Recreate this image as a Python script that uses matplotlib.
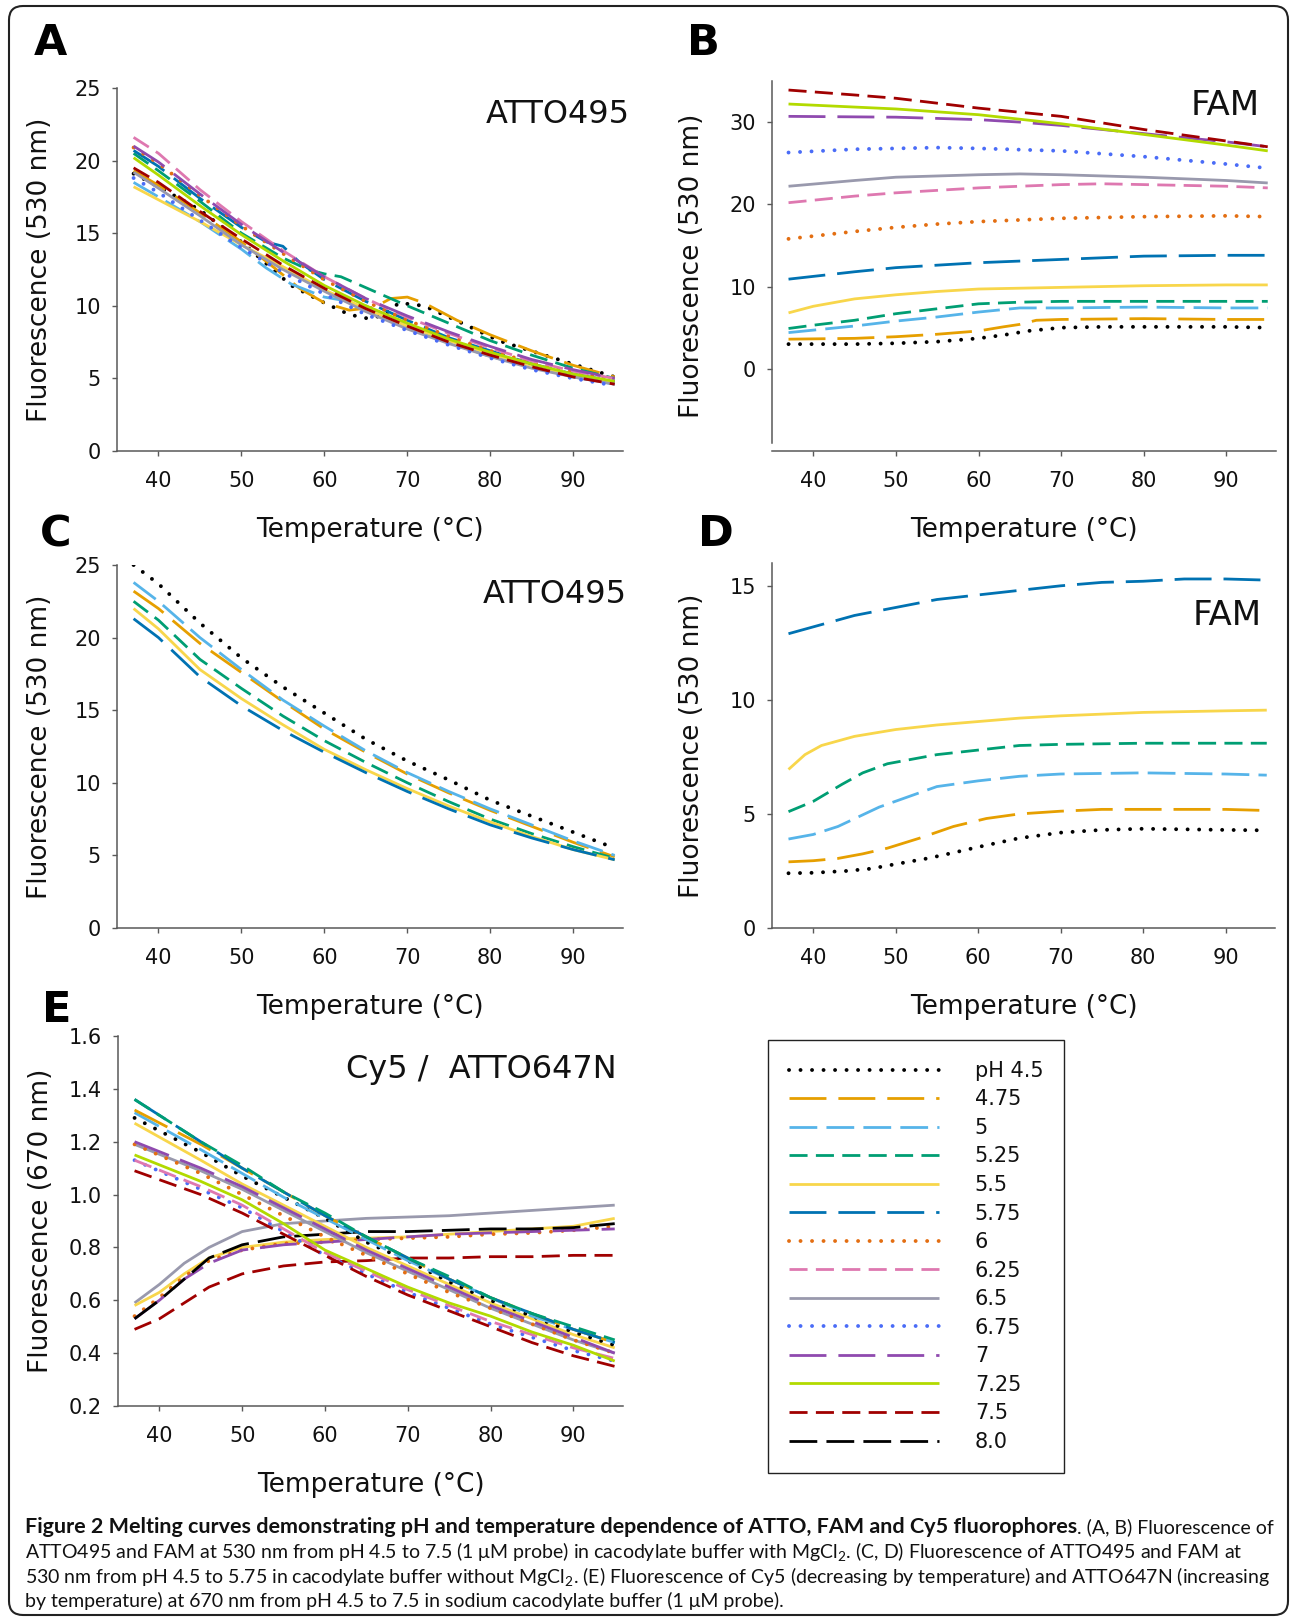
import matplotlib
matplotlib.use("Agg")
import matplotlib.pyplot as plt
import matplotlib.ticker as mticker
from matplotlib.lines import Line2D
from matplotlib.patches import FancyBboxPatch
from matplotlib.transforms import IdentityTransform

W, H = 1295, 1621

# ------------------------------------------------------------------ data
PH = ['4.5', '4.75', '5', '5.25', '5.5', '5.75', '6', '6.25', '6.5', '6.75',
      '7', '7.25', '7.5', '8.0']
LEGEND_LABELS = ['pH 4.5', '4.75', '5', '5.25', '5.5', '5.75', '6', '6.25',
                 '6.5', '6.75', '7', '7.25', '7.5', '8.0']
XTICKS = [40, 50, 60, 70, 80, 90]
T13 = [37, 40, 45, 50, 55, 60, 65, 70, 75, 80, 85, 90, 95]

# Panel A: ATTO495 with MgCl2
A_PH = ['4.5', '4.75', '5', '5.25', '5.5', '5.75', '6', '6.25', '6.5',
        '6.75', '7', '7.25', '7.5']
A_T = [
    [37, 40, 45, 50, 53, 56, 60, 63, 65, 67, 69, 72, 77, 81, 86, 91, 95],
    [37, 40, 45, 50, 54, 57, 60, 63, 66, 68, 70, 72, 76, 80, 85, 90, 95],
    [37, 40, 45, 50, 53, 56, 60, 63, 65, 70, 75, 80, 85, 90, 95],
    [37, 40, 45, 50, 55, 58, 60, 62, 66, 70, 75, 80, 85, 90, 95],
    T13,
    [37, 40, 45, 50, 53, 55, 57, 60, 65, 70, 75, 80, 85, 90, 95],
    T13, T13, T13, T13, T13, T13, T13,
]
A_V = [
    [19.1, 18.2, 16.6, 14.4, 12.9, 11.4, 10.2, 9.4, 9.15, 9.3, 10.2, 10.0, 8.7, 7.6, 6.7, 5.8, 5.1],
    [19.3, 18.3, 16.4, 14.4, 12.6, 11.2, 10.2, 9.7, 9.9, 10.5, 10.6, 10.2, 9.0, 8.0, 6.9, 5.9, 5.1],
    [18.5, 17.5, 15.8, 13.9, 12.6, 11.5, 10.6, 10.3, 10.0, 8.6, 7.5, 6.5, 5.8, 5.1, 4.6],
    [20.5, 19.3, 17.2, 15.0, 13.3, 12.5, 12.2, 12.0, 11.0, 10.0, 8.8, 7.6, 6.6, 5.7, 5.0],
    [18.2, 17.3, 15.8, 14.2, 12.7, 11.1, 9.8, 8.6, 7.6, 6.7, 5.9, 5.2, 4.7],
    [20.7, 19.6, 17.4, 15.4, 14.4, 14.1, 13.0, 11.8, 10.3, 9.0, 7.8, 6.9, 6.0, 5.3, 4.8],
    [20.9, 19.8, 17.6, 15.5, 13.6, 11.8, 10.3, 9.0, 7.9, 6.9, 6.1, 5.4, 4.9],
    [21.6, 20.5, 18.0, 15.8, 13.8, 12.0, 10.5, 9.2, 8.1, 7.1, 6.2, 5.5, 5.0],
    [19.2, 18.1, 16.2, 14.2, 12.5, 11.0, 9.6, 8.4, 7.4, 6.5, 5.7, 5.1, 4.6],
    [18.8, 17.8, 15.9, 14.0, 12.3, 10.8, 9.4, 8.3, 7.3, 6.4, 5.6, 5.0, 4.5],
    [21.0, 19.9, 17.7, 15.6, 13.7, 12.0, 10.5, 9.3, 8.2, 7.2, 6.3, 5.6, 5.0],
    [20.2, 19.0, 16.9, 14.9, 13.1, 11.4, 10.0, 8.8, 7.7, 6.8, 6.0, 5.3, 4.8],
    [19.5, 18.5, 16.5, 14.6, 12.8, 11.2, 9.8, 8.6, 7.5, 6.6, 5.8, 5.1, 4.6],
]

# Panel B: FAM with MgCl2
B_PH = A_PH
B_T = [
    [37, 45, 50, 55, 60, 63, 66, 70, 75, 80, 90, 95],
    [37, 45, 50, 55, 60, 63, 65, 67, 70, 80, 90, 95],
    [37, 40, 45, 50, 55, 60, 63, 65, 70, 80, 90, 95],
    [37, 40, 45, 50, 55, 60, 65, 70, 80, 90, 95],
    [37, 40, 45, 50, 55, 60, 70, 80, 90, 95],
    [37, 45, 50, 60, 70, 80, 90, 95],
    [37, 45, 50, 55, 60, 70, 80, 90, 95],
    [37, 45, 50, 60, 70, 75, 80, 90, 95],
    [37, 45, 50, 60, 65, 70, 80, 90, 95],
    [37, 45, 55, 60, 70, 80, 90, 95],
    [37, 50, 60, 65, 70, 80, 90, 95],
    [37, 50, 60, 70, 80, 90, 95],
    [37, 45, 50, 60, 70, 80, 90, 95],
]
B_V = [
    [3.0, 3.0, 3.1, 3.3, 3.7, 4.1, 4.6, 5.0, 5.1, 5.1, 5.1, 5.0],
    [3.6, 3.7, 3.9, 4.2, 4.6, 5.1, 5.4, 5.9, 6.0, 6.1, 6.0, 6.0],
    [4.4, 4.7, 5.2, 5.8, 6.3, 6.9, 7.2, 7.4, 7.4, 7.5, 7.4, 7.4],
    [4.9, 5.3, 5.9, 6.7, 7.3, 7.9, 8.1, 8.2, 8.2, 8.2, 8.2],
    [6.8, 7.6, 8.5, 9.0, 9.4, 9.7, 9.9, 10.1, 10.2, 10.2],
    [10.9, 11.8, 12.3, 12.9, 13.3, 13.7, 13.8, 13.8],
    [15.8, 16.7, 17.2, 17.6, 17.9, 18.3, 18.5, 18.6, 18.5],
    [20.2, 21.0, 21.4, 22.0, 22.4, 22.5, 22.4, 22.2, 22.0],
    [22.2, 22.9, 23.3, 23.6, 23.7, 23.6, 23.3, 22.9, 22.6],
    [26.3, 26.7, 26.9, 26.8, 26.5, 25.8, 24.9, 24.4],
    [30.7, 30.6, 30.3, 30.0, 29.6, 28.6, 27.6, 27.0],
    [32.2, 31.6, 30.9, 29.8, 28.5, 27.2, 26.5],
    [33.9, 33.3, 32.9, 31.7, 30.7, 29.1, 27.7, 27.0],
]

# Panel C: ATTO495 without MgCl2
C_PH = ['4.5', '4.75', '5', '5.25', '5.5', '5.75']
C_V = [
    [25.0, 23.7, 21.0, 18.6, 16.6, 14.8, 13.0, 11.5, 10.2, 8.8, 7.7, 6.6, 5.5],
    [23.2, 22.0, 19.6, 17.6, 15.6, 13.7, 12.1, 10.6, 9.3, 8.1, 7.0, 5.9, 4.9],
    [23.8, 22.5, 20.0, 17.8, 15.7, 13.9, 12.2, 10.7, 9.4, 8.2, 7.1, 6.0, 5.0],
    [22.5, 21.2, 18.5, 16.5, 14.6, 12.9, 11.4, 10.0, 8.7, 7.5, 6.5, 5.6, 4.8],
    [22.0, 20.6, 17.8, 15.8, 14.0, 12.3, 10.9, 9.6, 8.4, 7.3, 6.3, 5.4, 4.7],
    [21.3, 20.0, 17.3, 15.3, 13.6, 12.1, 10.7, 9.4, 8.2, 7.1, 6.2, 5.4, 4.7],
]

# Panel D: FAM without MgCl2
D_PH = C_PH
D_T = [
    [37, 40, 44, 47, 50, 54, 57, 60, 65, 70, 75, 80, 90, 95],
    [37, 40, 43, 46, 49, 53, 57, 61, 65, 70, 75, 80, 90, 95],
    [37, 40, 43, 48, 55, 60, 65, 70, 80, 90, 95],
    [37, 40, 43.5, 46, 49, 55, 60, 65, 70, 80, 90, 95],
    [37, 39, 41, 45, 50, 55, 60, 65, 70, 80, 90, 95],
    [37, 40, 45, 50, 55, 60, 65, 70, 75, 80, 85, 90, 95],
]
D_V = [
    [2.4, 2.42, 2.5, 2.6, 2.8, 3.06, 3.3, 3.55, 3.94, 4.18, 4.3, 4.35, 4.3, 4.28],
    [2.9, 2.95, 3.05, 3.25, 3.5, 3.95, 4.45, 4.8, 5.0, 5.12, 5.2, 5.2, 5.2, 5.15],
    [3.9, 4.1, 4.45, 5.3, 6.2, 6.45, 6.65, 6.75, 6.8, 6.75, 6.7],
    [5.1, 5.55, 6.3, 6.8, 7.2, 7.6, 7.8, 8.0, 8.05, 8.1, 8.1, 8.1],
    [6.95, 7.6, 8.0, 8.4, 8.7, 8.9, 9.05, 9.2, 9.3, 9.45, 9.52, 9.55],
    [12.9, 13.2, 13.7, 14.05, 14.4, 14.6, 14.8, 15.0, 15.15, 15.2, 15.3, 15.3, 15.25],
]

# Panel E: Cy5 (decreasing) and ATTO647N (increasing), 670 nm
E_T_DEC = [37, 45, 50, 55, 60, 65, 70, 75, 80, 85, 90, 95]
E_DEC_PH = ['5.5', '4.5', '5', '4.75', '5.75', '5.25', '6.5', '6', '7',
            '6.75', '6.25', '7.25', '7.5']
E_DEC_V = [
    [1.27, 1.13, 1.04, 0.96, 0.88, 0.80, 0.73, 0.66, 0.59, 0.53, 0.47, 0.42],
    [1.29, 1.16, 1.07, 0.99, 0.91, 0.82, 0.75, 0.67, 0.60, 0.54, 0.48, 0.43],
    [1.31, 1.17, 1.08, 0.99, 0.91, 0.83, 0.75, 0.68, 0.61, 0.54, 0.49, 0.44],
    [1.32, 1.19, 1.10, 1.01, 0.92, 0.84, 0.76, 0.68, 0.61, 0.55, 0.49, 0.44],
    [1.36, 1.20, 1.10, 1.01, 0.92, 0.84, 0.76, 0.68, 0.61, 0.55, 0.49, 0.44],
    [1.36, 1.20, 1.11, 1.01, 0.93, 0.84, 0.76, 0.69, 0.61, 0.55, 0.50, 0.45],
    [1.19, 1.09, 1.02, 0.94, 0.86, 0.78, 0.71, 0.64, 0.57, 0.51, 0.45, 0.40],
    [1.19, 1.08, 1.00, 0.92, 0.84, 0.77, 0.70, 0.63, 0.57, 0.51, 0.45, 0.40],
    [1.20, 1.10, 1.03, 0.95, 0.87, 0.79, 0.72, 0.65, 0.58, 0.52, 0.46, 0.40],
    [1.13, 1.02, 0.95, 0.86, 0.77, 0.70, 0.63, 0.57, 0.51, 0.46, 0.41, 0.37],
    [1.13, 1.03, 0.96, 0.87, 0.78, 0.71, 0.64, 0.58, 0.52, 0.47, 0.42, 0.38],
    [1.15, 1.05, 0.98, 0.89, 0.79, 0.72, 0.65, 0.59, 0.54, 0.48, 0.43, 0.37],
    [1.09, 1.00, 0.93, 0.85, 0.77, 0.69, 0.62, 0.56, 0.50, 0.44, 0.39, 0.35],
]
E_T_INC = [37, 40, 43, 46, 50, 55, 60, 65, 70, 75, 80, 85, 90, 95]
E_INC_PH = ['6.5', '5.5', '6', '7', '8.0', '7.5']
E_INC_V = [
    [0.59, 0.66, 0.74, 0.80, 0.86, 0.89, 0.90, 0.91, 0.915, 0.92, 0.93, 0.94, 0.95, 0.96],
    [0.58, 0.63, 0.70, 0.76, 0.80, 0.82, 0.83, 0.835, 0.84, 0.85, 0.86, 0.87, 0.88, 0.91],
    [0.54, 0.61, 0.69, 0.75, 0.79, 0.815, 0.82, 0.83, 0.835, 0.84, 0.85, 0.855, 0.865, 0.88],
    [0.53, 0.60, 0.68, 0.74, 0.79, 0.81, 0.82, 0.83, 0.84, 0.85, 0.855, 0.86, 0.865, 0.87],
    [0.53, 0.60, 0.68, 0.76, 0.81, 0.84, 0.85, 0.86, 0.86, 0.865, 0.87, 0.87, 0.875, 0.89],
    [0.49, 0.53, 0.59, 0.65, 0.70, 0.73, 0.745, 0.75, 0.76, 0.76, 0.765, 0.765, 0.77, 0.77],
]

# ------------------------------------------------------------------ styles
COLOR = {'4.5': '#000000', '4.75': '#E69F00', '5': '#56B4E9', '5.25': '#009E73',
         '5.5': '#F8D64B', '5.75': '#0072B2', '6': '#E36E12', '6.25': '#DE78B0',
         '6.5': '#9999AD', '6.75': '#4A6CF7', '7': '#8F4AAF', '7.25': '#B2DA00',
         '7.5': '#A00000', '8.0': '#000000'}
KIND = {'4.5': 'dot', '4.75': 'long', '5': 'med', '5.25': 'short', '5.5': 'solid',
        '5.75': 'long', '6': 'dot', '6.25': 'short', '6.5': 'solid', '6.75': 'dot',
        '7': 'long', '7.25': 'solid', '7.5': 'short', '8.0': 'med'}


def style(ph):
    k = KIND[ph]
    d = dict(color=COLOR[ph], lw=2.0, solid_capstyle='butt', dash_capstyle='butt')
    if k == 'dot':
        d.update(lw=2.8, linestyle=(0, (0.01, 2.95)), dash_capstyle='round')
    elif k == 'long':
        d.update(linestyle=(0, (13.3, 4.3)))
    elif k == 'med':
        d.update(linestyle=(0, (10.0, 3.3)))
    elif k == 'short':
        d.update(linestyle=(0, (6.5, 3.0)))
    else:
        d.update(linestyle='-')
    return d


plt.rcParams['font.family'] = ['DejaVu Sans']
SPINE = '#595959'
LABEL_SIZE = 19

fig = plt.figure(figsize=(W / 100, H / 100), dpi=100)


def add_ax(left, top, right, bottom):
    return fig.add_axes([left / W, 1 - bottom / H, (right - left) / W, (bottom - top) / H])


def style_ax(ax, left, top, right, bottom, ylabel, ylab_off):
    for s in ('top', 'right'):
        ax.spines[s].set_visible(False)
    for s in ('left', 'bottom'):
        ax.spines[s].set_color(SPINE)
        ax.spines[s].set_linewidth(1.1)
    ax.tick_params(direction='out', length=3.6, width=1.0, color=SPINE,
                   labelsize=15, labelcolor='#111111')
    ax.tick_params(axis='x', pad=11)
    ax.tick_params(axis='y', pad=8)
    ax.set_xticks(XTICKS)
    ax.set_xlim(35, 96)
    ax.set_xlabel('Temperature (°C)', fontsize=LABEL_SIZE, color='#111111')
    ax.xaxis.set_label_coords(0.5, -79 / (bottom - top))
    ax.xaxis.label.set_va('center')
    ax.set_ylabel(ylabel, fontsize=LABEL_SIZE, color='#111111')
    ax.yaxis.set_label_coords(-ylab_off / (right - left), 0.5)
    ax.yaxis.label.set_va('center')
    ax.patch.set_alpha(0)


# Panel A
box = (117, 88, 623, 451)
axA = add_ax(*box)
for ph, t, v in zip(A_PH, A_T, A_V):
    axA.plot(t, v, **style(ph))
axA.set_ylim(0, 25)
axA.set_yticks([0, 5, 10, 15, 20, 25])
style_ax(axA, *box, 'Fluorescence (530 nm)', 77)

# Panel B
box = (772, 81, 1276, 451)
axB = add_ax(*box)
for ph, t, v in zip(B_PH, B_T, B_V):
    axB.plot(t, v, **style(ph))
axB.set_ylim(-10, 35)
axB.set_yticks([0, 10, 20, 30])
style_ax(axB, *box, 'Fluorescence (530 nm)', 80)
axB.spines['left'].set_bounds(-9, 35)

# Panel C
box = (117, 565, 623, 928)
axC = add_ax(*box)
for ph, v in zip(C_PH, C_V):
    axC.plot(T13, v, **style(ph))
axC.set_ylim(0, 25)
axC.set_yticks([0, 5, 10, 15, 20, 25])
style_ax(axC, *box, 'Fluorescence (530 nm)', 77)

# Panel D
box = (772, 563, 1275, 928)
axD = add_ax(*box)
for ph, t, v in zip(D_PH, D_T, D_V):
    axD.plot(t, v, **style(ph))
axD.set_ylim(0, 16)
axD.set_yticks([0, 5, 10, 15])
style_ax(axD, *box, 'Fluorescence (530 nm)', 80)

# Panel E
box = (118, 1036, 623, 1406)
axE = add_ax(*box)
for ph, v in zip(E_INC_PH, E_INC_V):
    axE.plot(E_T_INC, v, **style(ph))
for ph, v in zip(E_DEC_PH, E_DEC_V):
    axE.plot(E_T_DEC, v, **style(ph))
axE.set_ylim(0.2, 1.6)
axE.set_yticks([0.2, 0.4, 0.6, 0.8, 1.0, 1.2, 1.4, 1.6])
axE.yaxis.set_major_formatter(mticker.FormatStrFormatter('%.1f'))
style_ax(axE, *box, 'Fluorescence (670 nm)', 77)


def ftext(x, y, s, **kw):
    return fig.text(x / W, 1 - y / H, s, **kw)


# in-panel titles
ttl = dict(fontsize=23, color='#111111', va='baseline', ha='left')
ftext(486, 123, 'ATTO495', **ttl)
ftext(483, 603, 'ATTO495', **ttl)
ftext(346, 1078, 'Cy5 /  ATTO647N', **ttl)
ttl_fam = dict(ttl, fontsize=24.5)
ftext(1191, 115, 'FAM', **ttl_fam)
ftext(1193, 625, 'FAM', **ttl_fam)

# panel letters
let = dict(fontsize=31, fontweight='bold', color='black', va='baseline', ha='left')
ftext(34, 55, 'A', **let)
ftext(687, 55, 'B', **let)
ftext(40, 546, 'C', **let)
ftext(698, 546, 'D', **let)
ftext(42, 1022, 'E', **let)

# legend
handles = [Line2D([], [], **style(ph)) for ph in PH]
leg = fig.legend(handles, LEGEND_LABELS, loc='upper left',
                 bbox_to_anchor=(768 / W, 1 - 1040 / H), borderaxespad=0,
                 frameon=True, fancybox=False, framealpha=1,
                 edgecolor='#222222', prop={'size': 15},
                 handlelength=7.2, handletextpad=1.73, labelspacing=0.41,
                 borderpad=1.0)
leg.get_frame().set_linewidth(1.0)
for t in leg.get_texts():
    t.set_color('#111111')

# outer border
border = FancyBboxPatch((9, 6), 1279, 1609, boxstyle='round,pad=0,rounding_size=14',
                        transform=IdentityTransform(), fill=False,
                        edgecolor='#222222', linewidth=1.5)
fig.add_artist(border)

# caption
plt.rcParams['mathtext.fontset'] = 'custom'
plt.rcParams['mathtext.rm'] = 'Lato'
cap_family = ['Lato', 'DejaVu Sans']
renderer = fig.canvas.get_renderer()
CAP_BOLD = 'Figure 2 Melting curves demonstrating pH and temperature dependence of ATTO, FAM and Cy5 fluorophores'
CAP_LINES = [
    '. (A, B) Fluorescence of',
    'ATTO495 and FAM at 530 nm from pH 4.5 to 7.5 (1 μM probe) in cacodylate buffer with MgCl$_\\mathregular{2}$. (C, D) Fluorescence of ATTO495 and FAM at',
    '530 nm from pH 4.5 to 5.75 in cacodylate buffer without MgCl$_\\mathregular{2}$. (E) Fluorescence of Cy5 (decreasing by temperature) and ATTO647N (increasing',
    'by temperature) at 670 nm from pH 4.5 to 7.5 in sodium cacodylate buffer (1 μM probe).',
]


def text_width(s, size, **kw):
    t = ftext(25, 1577, s, fontsize=size, family=cap_family, va='center', **kw)
    w = t.get_window_extent(renderer).width
    t.remove()
    return w


cs = 13 * 1240 / text_width(CAP_LINES[2], 13)
w_rest = text_width(CAP_LINES[0], cs)
csb = 13 * (1247 - w_rest) / text_width(CAP_BOLD, 13, fontweight='bold')
ys = [1527, 1552, 1577, 1601]
tb = ftext(25, ys[0], CAP_BOLD, fontsize=csb, fontweight='bold', family=cap_family,
           va='center', color='#111111')
wb = tb.get_window_extent(renderer).width
ftext(25 + wb, ys[0], CAP_LINES[0], fontsize=cs, family=cap_family,
      va='center', ha='left', color='#111111')
for y, s in zip(ys[1:], CAP_LINES[1:]):
    ftext(25, y, s, fontsize=cs, family=cap_family, va='center', color='#111111')

fig.savefig('out.png', dpi=100)
